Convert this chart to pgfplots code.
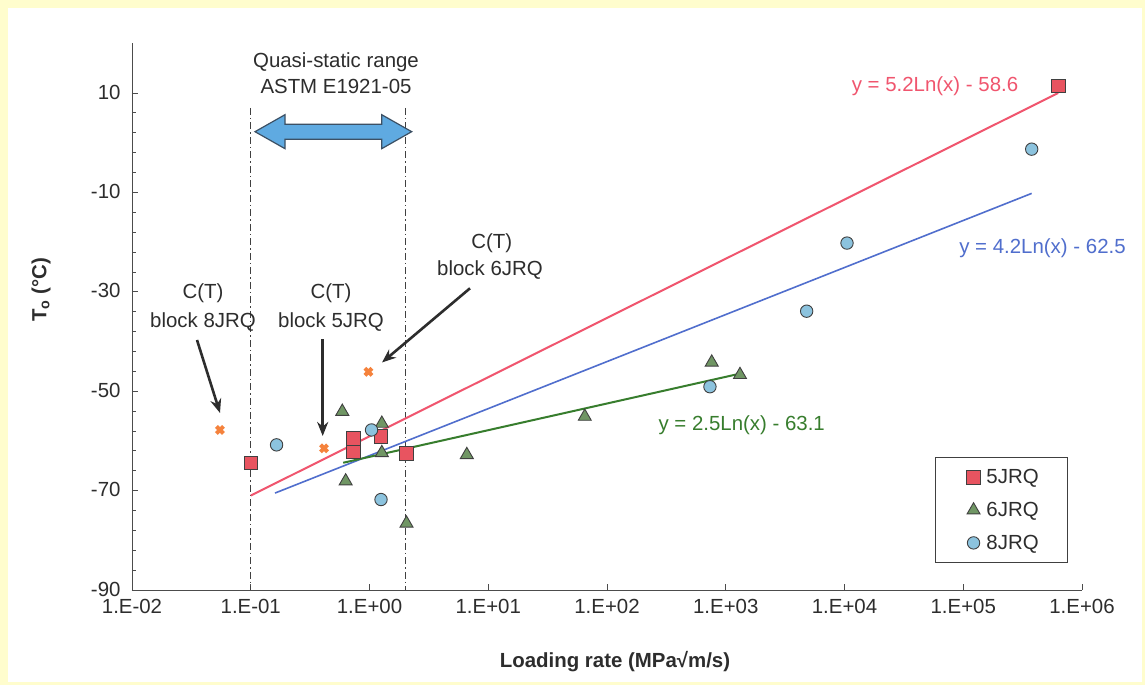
\documentclass[border=0pt]{standalone}
\usepackage{fontspec}
\setmainfont{Liberation Sans}
\usepackage{pgfplots}
\pgfplotsset{compat=1.18}
\usetikzlibrary{arrows.meta}
\definecolor{bgyellow}{RGB}{255,253,205}
\definecolor{sqred}{RGB}{232,84,96}
\definecolor{trigreen}{RGB}{112,150,100}
\definecolor{cirblue}{RGB}{140,195,222}
\definecolor{xorange}{RGB}{245,130,60}
\definecolor{linered}{RGB}{240,85,110}
\definecolor{lineblue}{RGB}{80,110,205}
\definecolor{linegreen}{RGB}{55,125,45}
\definecolor{txt}{RGB}{45,45,45}
\definecolor{arrowblue}{RGB}{95,170,225}
\definecolor{arrowedge}{RGB}{60,80,100}
\newcommand{\fs}{\fontsize{20.5}{24}\selectfont}
\begin{document}
\begin{tikzpicture}[x=1bp,y=1bp]
\useasboundingbox (0,0) rectangle (1145,685);
\fill[bgyellow] (0,0) rectangle (1145,685);
\fill[white] (8,3) rectangle (1142,677);
\begin{axis}[
  at={(132bp,95bp)}, anchor=south west,
  scale only axis, width=950bp, height=546.7bp,
  xmode=log, log basis x=10, xmin=1e-2, xmax=1e6,
  ymin=-90, ymax=20,
  axis lines*=left,
  axis line style={draw=black!70, line width=0.9bp},
  tick style={draw=black!70, line width=0.8bp},
  tick align=inside,
  major tick length=6bp, minor tick length=4bp,
  xtick={1e-2,1e-1,1,1e1,1e2,1e3,1e4,1e5,1e6},
  xticklabels={1.E-02,1.E-01,1.E+00,1.E+01,1.E+02,1.E+03,1.E+04,1.E+05,1.E+06},
  ytick={-90,-70,-50,-30,-10,10},
  yticklabels={-90,-70,-50,-30,-10,10},
  minor y tick num=4,
  tick label style={font=\fs, text=txt},
  xticklabel style={yshift=-6bp},
  yticklabel style={xshift=-8bp, yshift=1bp},
  clip=false,
  legend image code/.code={\path (-11bp,0bp) (10.5bp,0bp); \draw[#1] plot coordinates {(0bp,0bp)};},
  legend style={at={(0.845,0.243)}, anchor=north west, draw=black!75, line width=0.8bp,
    fill=white, font=\fs, text=txt, inner xsep=27bp, inner ysep=10bp, row sep=13bp,
    cells={anchor=west}},
]
% quasi-static range boundaries
\draw[black!75, line width=1.1bp, dash pattern=on 7bp off 3bp on 1.5bp off 3bp] (axis cs:0.1,7) -- (axis cs:0.1,-90);
\draw[black!75, line width=1.1bp, dash pattern=on 7bp off 3bp on 1.5bp off 3bp] (axis cs:2,7) -- (axis cs:2,-90);
% trend lines
\addplot[linered, line width=2bp, forget plot] coordinates {(0.1,-71.0) (6.3e5,10.0)};
\addplot[lineblue, line width=1.6bp, forget plot] coordinates {(0.16,-70.5) (3.77e5,-10.2)};
\addplot[linegreen, line width=2bp, forget plot] coordinates {(0.6,-64.4) (1300,-46.5)};
% data
\addplot[only marks, mark=square*, mark size=6.8bp, mark options={fill=sqred, draw=black!75, line width=0.9bp}]
  coordinates {(0.1,-64.4) (0.73,-59.5) (0.73,-62.2) (1.25,-59.1) (2.05,-62.5) (6.3e5,11.4)};
\addlegendentry{5JRQ}
\addplot[only marks, mark=triangle*, mark size=7.5bp, mark options={fill=trigreen, draw=black!75, line width=0.9bp}]
  coordinates {(0.59,-54.1) (0.63,-68.1) (1.27,-56.5) (1.27,-62.4) (2.05,-76.6) (6.6,-62.8) (65,-55.1) (762,-44.2) (1318,-46.7)};
\addlegendentry{6JRQ}
\addplot[only marks, mark=*, mark size=6.2bp, mark options={fill=cirblue, draw=black!75, line width=0.9bp}]
  coordinates {(0.165,-60.8) (1.04,-57.8) (1.25,-71.8) (736,-49.1) (4800,-33.9) (1.05e4,-20.2) (3.77e5,-1.3)};
\addlegendentry{8JRQ}
\addplot[only marks, mark=x, mark size=5bp, mark options={draw=xorange, line width=4bp}, forget plot]
  coordinates {(0.055,-57.8) (0.414,-61.5) (0.98,-46.1)};
\end{axis}
% axis titles
\node[font=\bfseries\fs, text=txt] at (615,23) {Loading rate (MPa√m/s)};
\node[font=\bfseries\fs, text=txt, rotate=90] at (41,395) {T\textsubscript{o} (°C)};
% quasi-static annotation
\node[font=\fs, text=txt] at (336,623) {Quasi-static range};
\node[font=\fs, text=txt] at (336,599) {ASTM E1921-05};
\filldraw[fill=arrowblue, draw=arrowedge, line width=1.2bp, line join=miter]
  (255,553.3) -- (285,570.3) -- (285,560.8) -- (381.7,560.8) -- (381.7,570.3) -- (411.7,553.3)
  -- (381.7,536.3) -- (381.7,545.8) -- (285,545.8) -- (285,536.3) -- cycle;
% C(T) annotations
\node[font=\fs, text=txt] at (203,392) {C(T)};
\node[font=\fs, text=txt] at (203,363) {block 8JRQ};
\draw[txt, line width=2.6bp, -{Stealth[length=14bp,width=11bp]}] (197,345) -- (220,272);
\node[font=\fs, text=txt] at (331,392) {C(T)};
\node[font=\fs, text=txt] at (331,363) {block 5JRQ};
\draw[txt, line width=2.6bp, -{Stealth[length=14bp,width=11bp]}] (322.7,345.7) -- (322.7,249);
\node[font=\fs, text=txt] at (491.7,441.7) {C(T)};
\node[font=\fs, text=txt] at (490,415) {block 6JRQ};
\draw[txt, line width=2.6bp, -{Stealth[length=14bp,width=11bp]}] (470,396.7) -- (382,322.5);
% trend equations
\node[font=\fs, text=linered] at (935,599) {y = 5.2Ln(x) - 58.6};
\node[font=\fs, text=lineblue] at (1042.5,437) {y = 4.2Ln(x) - 62.5};
\node[font=\fs, text=linegreen] at (741.7,260) {y = 2.5Ln(x) - 63.1};
\end{tikzpicture}
\end{document}
